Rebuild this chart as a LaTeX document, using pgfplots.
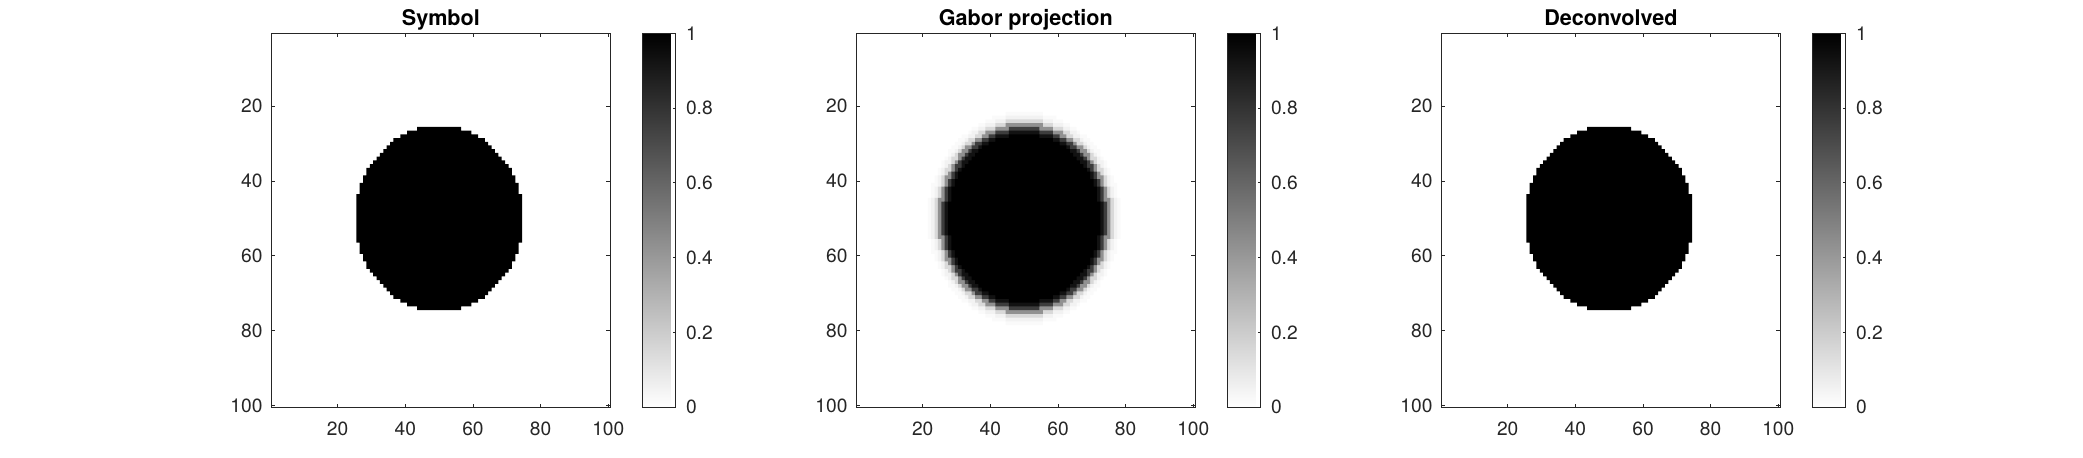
\documentclass[border=0pt]{standalone}
\usepackage{fontspec}
\setmainfont{TeX Gyre Heros}
\usepackage{pgfplots}
\pgfplotsset{compat=1.18}
\usepackage{pgfplotstable}

% outline of the binary disk (pixel staircase), top edge then bottom edge
\pgfplotstableread{
x y
25.5 43.5
26.5 40.5
27.5 38.5
28.5 36.5
29.5 35.5
30.5 34.5
31.5 33.5
32.5 32.5
33.5 31.5
34.5 30.5
35.5 29.5
36.5 28.5
38.5 27.5
40.5 26.5
43.5 25.5
56.5 26.5
59.5 27.5
61.5 28.5
63.5 29.5
64.5 30.5
65.5 31.5
66.5 32.5
67.5 33.5
68.5 34.5
69.5 35.5
70.5 36.5
71.5 38.5
72.5 40.5
73.5 43.5
74.5 43.5
74.5 56.5
73.5 59.5
72.5 61.5
71.5 63.5
70.5 64.5
69.5 65.5
68.5 66.5
67.5 67.5
66.5 68.5
65.5 69.5
64.5 70.5
63.5 71.5
61.5 72.5
59.5 73.5
56.5 74.5
43.5 73.5
40.5 72.5
38.5 71.5
36.5 70.5
35.5 69.5
34.5 68.5
33.5 67.5
32.5 66.5
31.5 65.5
30.5 64.5
29.5 63.5
28.5 61.5
27.5 59.5
26.5 56.5
25.5 56.5
}\disk

\pgfplotsset{
  img/.style={
    scale only axis, width=169.15pt, height=187pt,
    xmin=0.5, xmax=100.5, ymin=0.5, ymax=100.5, y dir=reverse,
    xtick={20,40,60,80,100}, ytick={20,40,60,80,100},
    tick align=inside, tick pos=both,
    major tick length=1.8pt,
    every tick/.style={black!85, line width=0.4pt},
    axis line style={black!85, line width=0.5pt},
    ticklabel style={font=\fontsize{9.6}{11}\selectfont, text=black!85},
    /pgf/number format/assume math mode=true,
    xticklabel style={yshift=-3.9pt},
    yticklabel style={xshift=-1.1pt},
    title style={font=\fontsize{10.8}{12}\selectfont\bfseries, at={(0.5,1)}, anchor=base, yshift=-2pt},
    colormap={wb}{gray(0cm)=(1); gray(1cm)=(0)},
    point meta min=0, point meta max=1,
    colorbar,
    colorbar style={
      at={(parent axis.north east)}, anchor=north west, xshift=7.65pt,
      width=16.8pt, height=187pt, scale only axis,
      ytick={0,0.2,0.4,0.6,0.8,1}, yticklabel pos=right, ytick pos=right,
      tick align=inside, major tick length=1.5pt,
      every tick/.style={black!85, line width=0.4pt},
      axis line style={black!85, line width=0.5pt},
      yticklabel style={xshift=1.5pt, font=\fontsize{9.6}{11}\selectfont, text=black!85},
      /pgf/number format/assume math mode=true,
    },
    axis on top,
  },
  px/.style={const plot, draw=none},
}

\begin{document}
\begin{tikzpicture}
\path[use as bounding box] (0,0) rectangle (1041.5pt,229pt);

\begin{axis}[img, at={(135.85pt,25.35pt)}, anchor=south west, title={Symbol}]
\addplot[px, fill=black] table {\disk};
\end{axis}

\begin{axis}[img, at={(428.35pt,25.35pt)}, anchor=south west, title={Gabor projection}]
\addplot[px, fill=black!2] coordinates {
(21.5,44.5) (22.5,40.5) (23.5,38.5) (24.5,36.5) (25.5,34.5) (26.5,33.5) (27.5,31.5) (28.5,30.5) (29.5,29.5) (30.5,28.5) (31.5,27.5) (33.5,26.5) (34.5,25.5) (36.5,24.5) (38.5,23.5) (40.5,22.5) (44.5,21.5) (55.5,22.5) (59.5,23.5) (61.5,24.5) (63.5,25.5) (65.5,26.5) (66.5,27.5) (68.5,28.5) (69.5,29.5) (70.5,30.5) (71.5,31.5) (72.5,33.5) (73.5,34.5) (74.5,36.5) (75.5,38.5) (76.5,40.5) (77.5,44.5) (78.5,44.5)
(78.5,55.5) (77.5,59.5) (76.5,61.5) (75.5,63.5) (74.5,65.5) (73.5,66.5) (72.5,68.5) (71.5,69.5) (70.5,70.5) (69.5,71.5) (68.5,72.5) (66.5,73.5) (65.5,74.5) (63.5,75.5) (61.5,76.5) (59.5,77.5) (55.5,78.5) (44.5,77.5) (40.5,76.5) (38.5,75.5) (36.5,74.5) (34.5,73.5) (33.5,72.5) (31.5,71.5) (30.5,70.5) (29.5,69.5) (28.5,68.5) (27.5,66.5) (26.5,65.5) (25.5,63.5) (24.5,61.5) (23.5,59.5) (22.5,55.5) (21.5,55.5)};
\addplot[px, fill=black!5] coordinates {
(22.5,44.5) (23.5,41.5) (24.5,38.5) (25.5,36.5) (26.5,34.5) (27.5,33.5) (28.5,32.5) (29.5,31.5) (30.5,30.5) (31.5,29.5) (32.5,28.5) (33.5,27.5) (34.5,26.5) (36.5,25.5) (38.5,24.5) (41.5,23.5) (44.5,22.5) (55.5,23.5) (58.5,24.5) (61.5,25.5) (63.5,26.5) (65.5,27.5) (66.5,28.5) (67.5,29.5) (68.5,30.5) (69.5,31.5) (70.5,32.5) (71.5,33.5) (72.5,34.5) (73.5,36.5) (74.5,38.5) (75.5,41.5) (76.5,44.5) (77.5,44.5)
(77.5,55.5) (76.5,58.5) (75.5,61.5) (74.5,63.5) (73.5,65.5) (72.5,66.5) (71.5,67.5) (70.5,68.5) (69.5,69.5) (68.5,70.5) (67.5,71.5) (66.5,72.5) (65.5,73.5) (63.5,74.5) (61.5,75.5) (58.5,76.5) (55.5,77.5) (44.5,76.5) (41.5,75.5) (38.5,74.5) (36.5,73.5) (34.5,72.5) (33.5,71.5) (32.5,70.5) (31.5,69.5) (30.5,68.5) (29.5,67.5) (28.5,66.5) (27.5,65.5) (26.5,63.5) (25.5,61.5) (24.5,58.5) (23.5,55.5) (22.5,55.5)};
\addplot[px, fill=black!15] coordinates {
(23.5,44.5) (24.5,41.5) (25.5,38.5) (26.5,36.5) (27.5,35.5) (28.5,33.5) (29.5,32.5) (30.5,31.5) (31.5,30.5) (32.5,29.5) (33.5,28.5) (35.5,27.5) (36.5,26.5) (38.5,25.5) (41.5,24.5) (44.5,23.5) (55.5,24.5) (58.5,25.5) (61.5,26.5) (63.5,27.5) (64.5,28.5) (66.5,29.5) (67.5,30.5) (68.5,31.5) (69.5,32.5) (70.5,33.5) (71.5,35.5) (72.5,36.5) (73.5,38.5) (74.5,41.5) (75.5,44.5) (76.5,44.5)
(76.5,55.5) (75.5,58.5) (74.5,61.5) (73.5,63.5) (72.5,64.5) (71.5,66.5) (70.5,67.5) (69.5,68.5) (68.5,69.5) (67.5,70.5) (66.5,71.5) (64.5,72.5) (63.5,73.5) (61.5,74.5) (58.5,75.5) (55.5,76.5) (44.5,75.5) (41.5,74.5) (38.5,73.5) (36.5,72.5) (35.5,71.5) (33.5,70.5) (32.5,69.5) (31.5,68.5) (30.5,67.5) (29.5,66.5) (28.5,64.5) (27.5,63.5) (26.5,61.5) (25.5,58.5) (24.5,55.5) (23.5,55.5)};
\addplot[px, fill=black!43] coordinates {
(24.5,44.5) (25.5,41.5) (26.5,38.5) (27.5,37.5) (28.5,35.5) (29.5,34.5) (30.5,32.5) (31.5,31.5) (32.5,30.5) (34.5,29.5) (35.5,28.5) (37.5,27.5) (38.5,26.5) (41.5,25.5) (44.5,24.5) (55.5,25.5) (58.5,26.5) (61.5,27.5) (62.5,28.5) (64.5,29.5) (65.5,30.5) (67.5,31.5) (68.5,32.5) (69.5,34.5) (70.5,35.5) (71.5,37.5) (72.5,38.5) (73.5,41.5) (74.5,44.5) (75.5,44.5)
(75.5,55.5) (74.5,58.5) (73.5,61.5) (72.5,62.5) (71.5,64.5) (70.5,65.5) (69.5,67.5) (68.5,68.5) (67.5,69.5) (65.5,70.5) (64.5,71.5) (62.5,72.5) (61.5,73.5) (58.5,74.5) (55.5,75.5) (44.5,74.5) (41.5,73.5) (38.5,72.5) (37.5,71.5) (35.5,70.5) (34.5,69.5) (32.5,68.5) (31.5,67.5) (30.5,65.5) (29.5,64.5) (28.5,62.5) (27.5,61.5) (26.5,58.5) (25.5,55.5) (24.5,55.5)};
\addplot[px, fill=black!76] coordinates {
(25.5,45.5) (26.5,41.5) (27.5,39.5) (28.5,37.5) (29.5,35.5) (30.5,34.5) (31.5,33.5) (32.5,32.5) (33.5,31.5) (34.5,30.5) (35.5,29.5) (37.5,28.5) (39.5,27.5) (41.5,26.5) (45.5,25.5) (54.5,26.5) (58.5,27.5) (60.5,28.5) (62.5,29.5) (64.5,30.5) (65.5,31.5) (66.5,32.5) (67.5,33.5) (68.5,34.5) (69.5,35.5) (70.5,37.5) (71.5,39.5) (72.5,41.5) (73.5,45.5) (74.5,45.5)
(74.5,54.5) (73.5,58.5) (72.5,60.5) (71.5,62.5) (70.5,64.5) (69.5,65.5) (68.5,66.5) (67.5,67.5) (66.5,68.5) (65.5,69.5) (64.5,70.5) (62.5,71.5) (60.5,72.5) (58.5,73.5) (54.5,74.5) (45.5,73.5) (41.5,72.5) (39.5,71.5) (37.5,70.5) (35.5,69.5) (34.5,68.5) (33.5,67.5) (32.5,66.5) (31.5,65.5) (30.5,64.5) (29.5,62.5) (28.5,60.5) (27.5,58.5) (26.5,54.5) (25.5,54.5)};
\addplot[px, fill=black!93] coordinates {
(26.5,45.5) (27.5,41.5) (28.5,39.5) (29.5,37.5) (30.5,36.5) (31.5,34.5) (32.5,33.5) (33.5,32.5) (34.5,31.5) (36.5,30.5) (37.5,29.5) (39.5,28.5) (41.5,27.5) (45.5,26.5) (54.5,27.5) (58.5,28.5) (60.5,29.5) (62.5,30.5) (63.5,31.5) (65.5,32.5) (66.5,33.5) (67.5,34.5) (68.5,36.5) (69.5,37.5) (70.5,39.5) (71.5,41.5) (72.5,45.5) (73.5,45.5)
(73.5,54.5) (72.5,58.5) (71.5,60.5) (70.5,62.5) (69.5,63.5) (68.5,65.5) (67.5,66.5) (66.5,67.5) (65.5,68.5) (63.5,69.5) (62.5,70.5) (60.5,71.5) (58.5,72.5) (54.5,73.5) (45.5,72.5) (41.5,71.5) (39.5,70.5) (37.5,69.5) (36.5,68.5) (34.5,67.5) (33.5,66.5) (32.5,65.5) (31.5,63.5) (30.5,62.5) (29.5,60.5) (28.5,58.5) (27.5,54.5) (26.5,54.5)};
\addplot[px, fill=black] coordinates {
(27.5,45.5) (28.5,41.5) (29.5,39.5) (30.5,37.5) (31.5,36.5) (32.5,35.5) (33.5,34.5) (34.5,33.5) (35.5,32.5) (36.5,31.5) (37.5,30.5) (39.5,29.5) (41.5,28.5) (45.5,27.5) (54.5,28.5) (58.5,29.5) (60.5,30.5) (62.5,31.5) (63.5,32.5) (64.5,33.5) (65.5,34.5) (66.5,35.5) (67.5,36.5) (68.5,37.5) (69.5,39.5) (70.5,41.5) (71.5,45.5) (72.5,45.5)
(72.5,54.5) (71.5,58.5) (70.5,60.5) (69.5,62.5) (68.5,63.5) (67.5,64.5) (66.5,65.5) (65.5,66.5) (64.5,67.5) (63.5,68.5) (62.5,69.5) (60.5,70.5) (58.5,71.5) (54.5,72.5) (45.5,71.5) (41.5,70.5) (39.5,69.5) (37.5,68.5) (36.5,67.5) (35.5,66.5) (34.5,65.5) (33.5,64.5) (32.5,63.5) (31.5,62.5) (30.5,60.5) (29.5,58.5) (28.5,54.5) (27.5,54.5)};
\end{axis}

\begin{axis}[img, at={(720.85pt,25.35pt)}, anchor=south west, title={Deconvolved}]
\addplot[px, fill=black] table {\disk};
\end{axis}
\end{tikzpicture}
\end{document}
